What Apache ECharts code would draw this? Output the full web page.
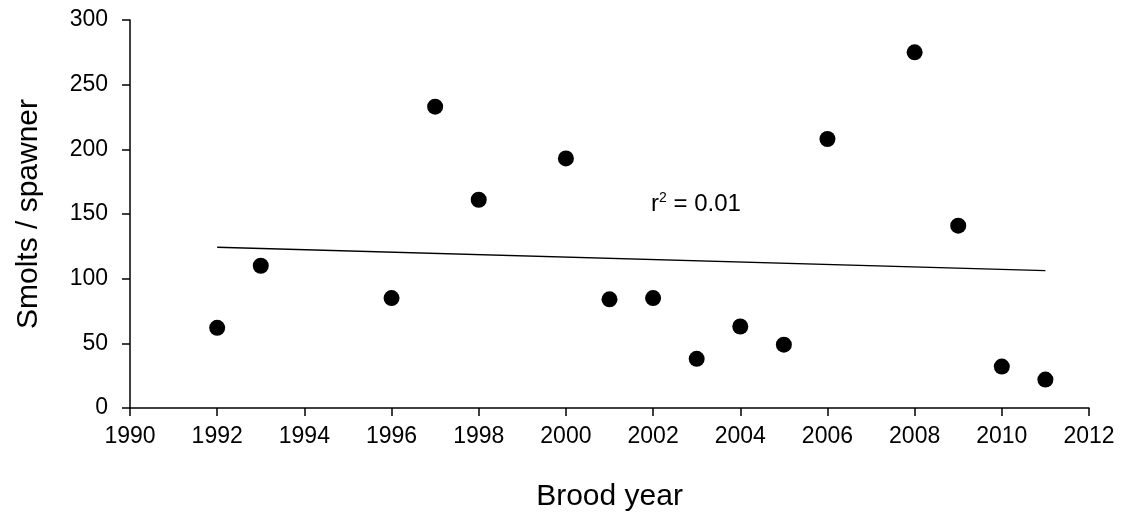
<!DOCTYPE html>
<html>
<head>
<meta charset="utf-8">
<script src="https://cdn.jsdelivr.net/npm/echarts@6/dist/echarts.min.js"></script>
<style>
html,body{margin:0;padding:0;background:#fff;}
#c{width:1126px;height:527px;}
</style>
</head>
<body>
<div id="c"></div>
<script>
const broodYears = [1992, 1993, 1996, 1997, 1998, 2000, 2001, 2002, 2003, 2004, 2005, 2006, 2008, 2009, 2010, 2011];
const smoltsPerSpawner = [62, 110, 85, 233, 161, 193, 84, 85, 38, 63, 49, 208, 275, 141, 32, 22];
const trendYears = [1992, 2011];
const trendValues = [124.3, 106.2];
const xAxisName = 'Brood year';
const yAxisName = 'Smolts / spawner';
const rSquaredLabel = '0.01';

const font = 'Liberation Sans, Arial, sans-serif';
const chart = echarts.init(document.getElementById('c'), null, {renderer: 'canvas'});
chart.setOption({
  animation: false,
  backgroundColor: '#fff',
  grid: {left: 130, top: 20, right: 37, bottom: 119, containLabel: false},
  xAxis: {
    type: 'value', min: 1990, max: 2012, interval: 2,
    name: xAxisName, nameLocation: 'middle', nameGap: 74,
    nameTextStyle: {fontFamily: font, fontSize: 30, color: '#000'},
    axisLine: {show: true, onZero: false, lineStyle: {color: '#000', width: 1.5}},
    axisTick: {show: true, length: 8, inside: false, lineStyle: {color: '#000', width: 1.5}},
    axisLabel: {fontFamily: font, fontSize: 23, color: '#000', margin: 17, formatter: v => String(v)},
    splitLine: {show: false}
  },
  yAxis: {
    type: 'value', min: 0, max: 300, interval: 50,
    name: yAxisName, nameLocation: 'middle', nameGap: 86, nameRotate: 90,
    nameTextStyle: {fontFamily: font, fontSize: 30, color: '#000'},
    axisLine: {show: true, lineStyle: {color: '#000', width: 1.5}},
    axisTick: {show: true, length: 8, inside: false, lineStyle: {color: '#000', width: 1.5}},
    axisLabel: {fontFamily: font, fontSize: 23, color: '#000', margin: 22},
    splitLine: {show: false}
  },
  series: [
    {
      type: 'line',
      data: trendYears.map((x, i) => [x, trendValues[i]]),
      showSymbol: false, symbol: 'none',
      lineStyle: {color: '#000', width: 1.3, opacity: 1},
      z: 1
    },
    {
      type: 'scatter',
      data: broodYears.map((x, i) => [x, smoltsPerSpawner[i]]),
      symbol: 'circle', symbolSize: 16,
      itemStyle: {color: '#000', opacity: 1},
      z: 2
    }
  ],
  graphic: [{
    type: 'text',
    left: 651, top: 191,
    style: {
      text: 'r{sup|2} = ' + rSquaredLabel,
      font: '24px ' + font,
      fill: '#000',
      rich: {sup: {fontSize: 14, fontFamily: font, fill: '#000', verticalAlign: 'top', padding: [0, 0, 12, 0]}}
    }
  }]
});
</script>
</body>
</html>
